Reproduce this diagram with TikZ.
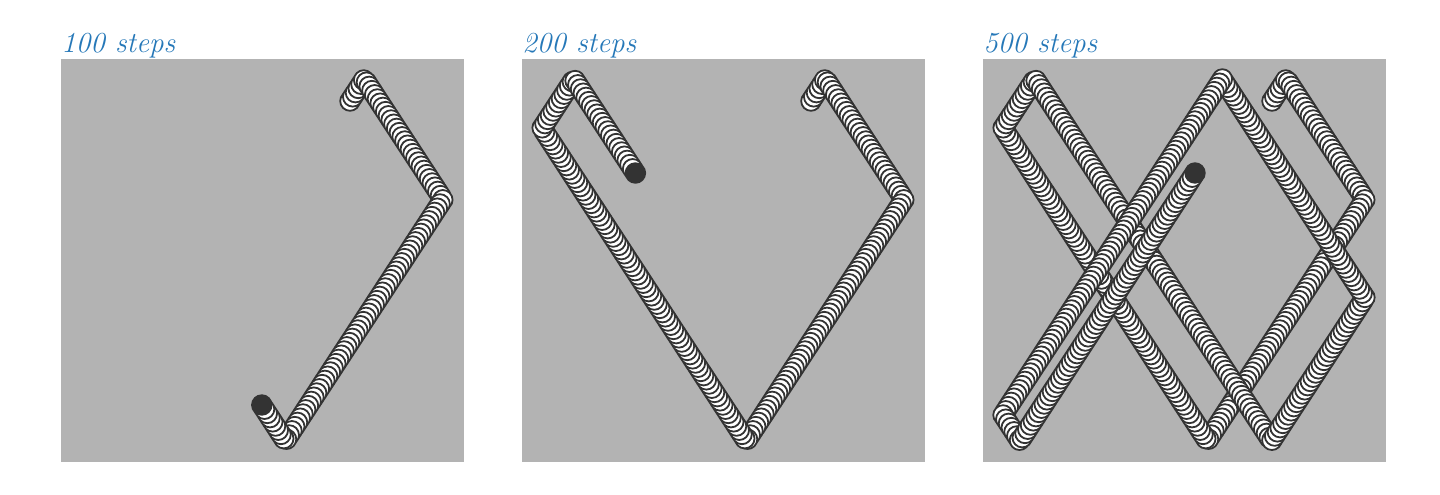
\documentclass[tikz,border=0pt]{standalone}
\usepackage{xcolor}
\definecolor{panelgray}{RGB}{179,179,179}
\definecolor{balldark}{RGB}{51,51,51}
\definecolor{titleblue}{RGB}{38,120,184}

% trail of one bouncing ball: #1,#2 = panel corner, #3 = steps
\newcommand\balltrail[3]{%
  \foreach \t in {0,...,#3} {
    \pgfmathsetmacro\bx{382-abs(mod(269+2.742*\t,724)-362)}
    \pgfmathsetmacro\by{382-abs(mod(702+4.2*\t,724)-362)}
    \ifnum\t=#3
      \filldraw[lastball] (#1+\bx,#2+\by) circle[radius=4.9pt];
    \else
      \filldraw[trailball] (#1+\bx,#2+\by) circle[radius=4.9pt];
    \fi
  }%
}

\begin{document}
\begin{tikzpicture}[x=0.5pt,y=-0.5pt,
    panel/.style={fill=panelgray},
    trailball/.style={fill=white,draw=balldark,line width=0.9pt},
    lastball/.style={fill=balldark,draw=balldark,line width=0.9pt},
    steptitle/.style={anchor=base west,inner sep=0pt,text=titleblue,
      font=\fontsize{14.5}{17}\selectfont\itshape}]
  \useasboundingbox (0,0) rectangle (1440,494);

  \fill[panel] (61,59) rectangle +(403,403);
  \fill[panel] (522,59) rectangle +(403,403);
  \fill[panel] (983,59) rectangle +(403,403);

  \node[steptitle] (t1) at (61,52) {100 steps};
  \node[steptitle] (t2) at (522,52) {200 steps};
  \node[steptitle] (t3) at (983,52) {500 steps};

  \balltrail{61}{59}{100}
  \balltrail{522}{59}{200}
  \balltrail{983}{59}{500}
\end{tikzpicture}
\end{document}
